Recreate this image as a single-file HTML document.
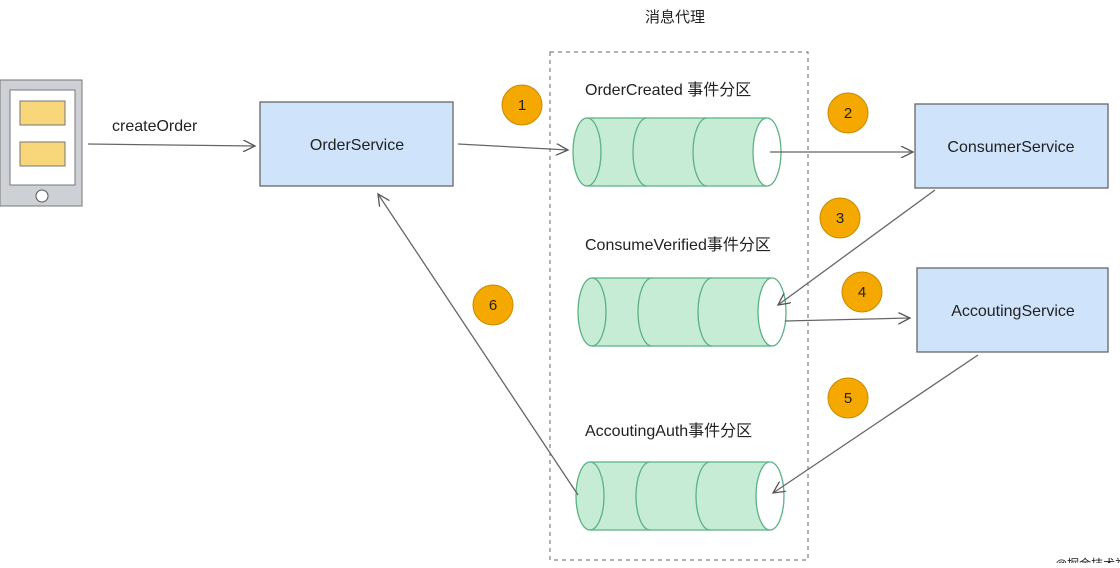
<!DOCTYPE html>
<html><head><meta charset="utf-8"><style>
body{margin:0;background:#fff;width:1120px;height:563px;overflow:hidden}
text{font-family:"Liberation Sans","Noto Sans CJK SC",sans-serif;fill:#222}
</style></head><body>
<svg width="1120" height="563" viewBox="0 0 1120 563" xmlns="http://www.w3.org/2000/svg">
<defs>
<marker id="a" markerWidth="14" markerHeight="12" refX="12" refY="6" orient="auto" markerUnits="userSpaceOnUse">
<path d="M0,0 L12,6 L0,12" fill="none" stroke="#555" stroke-width="1.3"/></marker>
<g id="cyl">
<rect x="0" y="0" width="180" height="68" fill="#c7ecd6" stroke="none"/>
<ellipse cx="0" cy="34" rx="14" ry="34" fill="#c7ecd6" stroke="#5bb283" stroke-width="1.3"/>
<line x1="0" y1="0" x2="180" y2="0" stroke="#5bb283" stroke-width="1.3"/>
<line x1="0" y1="68" x2="180" y2="68" stroke="#5bb283" stroke-width="1.3"/>
<path d="M60,0 A14,34 0 0 0 60,68" fill="none" stroke="#5bb283" stroke-width="1.3"/>
<path d="M120,0 A14,34 0 0 0 120,68" fill="none" stroke="#5bb283" stroke-width="1.3"/>
<ellipse cx="180" cy="34" rx="14" ry="34" fill="#fff" stroke="#5bb283" stroke-width="1.3"/>
</g>
</defs>
<text x="675" y="22" font-size="15" text-anchor="middle">消息代理</text>
<rect x="550" y="52" width="258" height="508" fill="none" stroke="#666" stroke-dasharray="4,4"/>
<rect x="0" y="80" width="82" height="126" fill="#cdd1d6" stroke="#777"/>
<rect x="10" y="90" width="65" height="95" fill="#fff" stroke="#777"/>
<rect x="20" y="101" width="45" height="24" fill="#f8d67a" stroke="#777"/>
<rect x="20" y="142" width="45" height="24" fill="#f8d67a" stroke="#777"/>
<circle cx="42" cy="196" r="6" fill="#fff" stroke="#555"/>
<text x="112" y="131" font-size="16">createOrder</text>
<line x1="88" y1="144" x2="255" y2="146" stroke="#666" stroke-width="1.3" marker-end="url(#a)"/>
<rect x="260" y="102" width="193" height="84" fill="#cfe3fb" stroke="#666" stroke-width="1.3"/>
<text x="357" y="150" font-size="16" text-anchor="middle">OrderService</text>
<line x1="458" y1="144" x2="568" y2="150" stroke="#666" stroke-width="1.3" marker-end="url(#a)"/>
<text x="585" y="95" font-size="16">OrderCreated 事件分区</text>
<text x="585" y="250" font-size="16">ConsumeVerified事件分区</text>
<text x="585" y="436" font-size="16">AccoutingAuth事件分区</text>
<use href="#cyl" x="587" y="118"/>
<use href="#cyl" x="592" y="278"/>
<use href="#cyl" x="590" y="462"/>
<rect x="915" y="104" width="193" height="84" fill="#cfe3fb" stroke="#666" stroke-width="1.3"/>
<text x="1011" y="152" font-size="16" text-anchor="middle">ConsumerService</text>
<rect x="917" y="268" width="191" height="84" fill="#cfe3fb" stroke="#666" stroke-width="1.3"/>
<text x="1013" y="316" font-size="16" text-anchor="middle">AccoutingService</text>
<line x1="770" y1="152" x2="913" y2="152" stroke="#666" stroke-width="1.3" marker-end="url(#a)"/>
<line x1="935" y1="190" x2="778" y2="305" stroke="#666" stroke-width="1.3" marker-end="url(#a)"/>
<line x1="785" y1="321" x2="910" y2="318" stroke="#666" stroke-width="1.3" marker-end="url(#a)"/>
<line x1="978" y1="355" x2="773" y2="493" stroke="#666" stroke-width="1.3" marker-end="url(#a)"/>
<line x1="578" y1="495" x2="378" y2="194" stroke="#666" stroke-width="1.3" marker-end="url(#a)"/>
<g font-size="15" text-anchor="middle">
<circle cx="522" cy="105" r="20" fill="#f5a800" stroke="#c88a00"/><text x="522" y="110">1</text>
<circle cx="848" cy="113" r="20" fill="#f5a800" stroke="#c88a00"/><text x="848" y="118">2</text>
<circle cx="840" cy="218" r="20" fill="#f5a800" stroke="#c88a00"/><text x="840" y="223">3</text>
<circle cx="862" cy="292" r="20" fill="#f5a800" stroke="#c88a00"/><text x="862" y="297">4</text>
<circle cx="848" cy="398" r="20" fill="#f5a800" stroke="#c88a00"/><text x="848" y="403">5</text>
<circle cx="493" cy="305" r="20" fill="#f5a800" stroke="#c88a00"/><text x="493" y="310">6</text>
</g>
<text x="1055" y="568" font-size="12" fill="#555">@掘金技术社区</text>
</svg>
</body></html>
